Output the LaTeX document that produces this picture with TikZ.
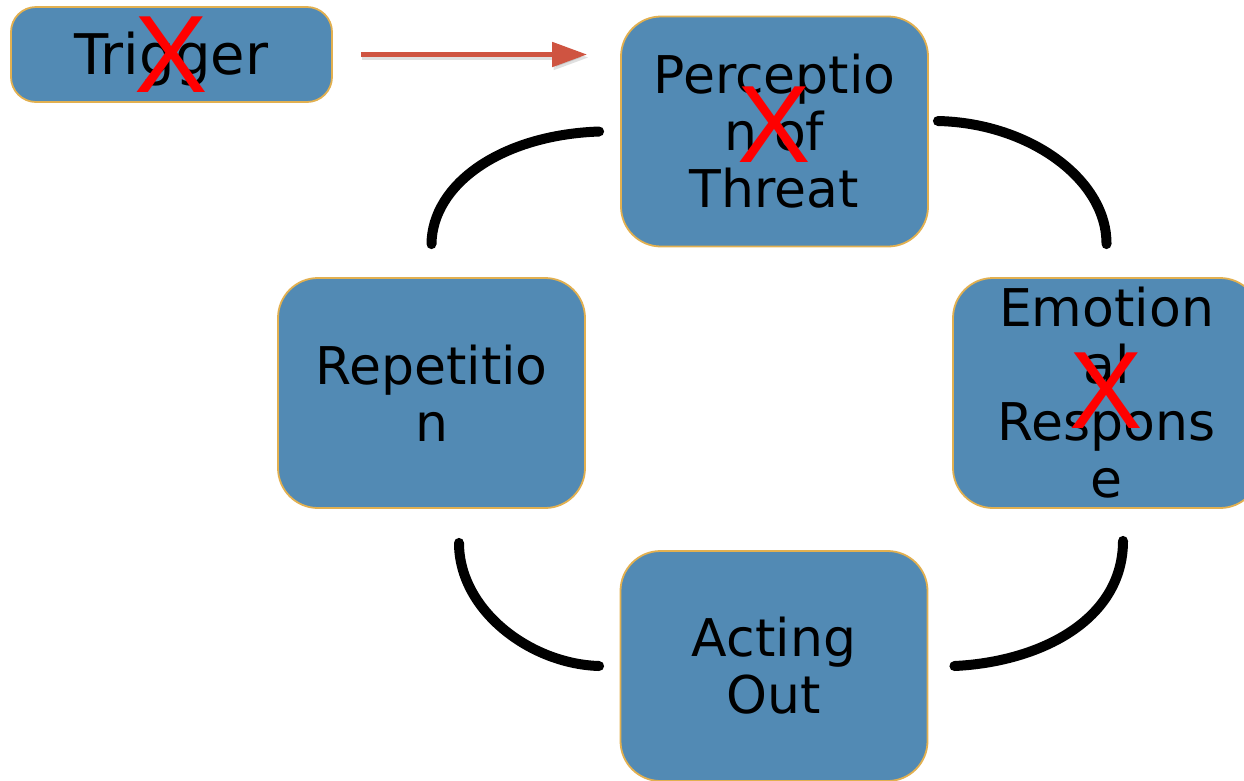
\documentclass[tikz,border=0pt]{standalone}
\usepackage{fontspec}
\setmainfont{DejaVu Sans}
\newfontfamily\markfont{Liberation Sans}
\usetikzlibrary{arrows.meta}
\definecolor{boxfill}{RGB}{82,138,180}
\definecolor{boxedge}{RGB}{226,176,80}
\definecolor{arrowred}{RGB}{207,84,65}
\tikzset{
  stage/.style={draw=boxedge, line width=1.8pt, fill=boxfill, rounded corners=40pt,
    minimum width=307pt, minimum height=230pt, inner sep=0pt, align=center,
    font=\fontsize{52}{57}\selectfont, text=black},
  startbox/.style={stage, rounded corners=25pt, minimum width=321pt, minimum height=95pt,
    font=\fontsize{56}{60}\selectfont, text height=45pt, text depth=6pt},
  cross/.style={text=red, inner sep=0pt, font=\markfont\fontsize{110}{110}\selectfont},
  loop/.style={line width=10pt, line cap=round, black},
  flow/.style={line width=5pt, arrowred, -{Triangle[length=35pt,width=24pt]}},
  flowshade/.style={line width=5pt, black, opacity=0.12, -{Triangle[length=35pt,width=24pt]}}
}
\begin{document}
\begin{tikzpicture}[x=1pt,y=-1pt]
\clip (0,0) rectangle (1244,780);
\fill[white] (0,0) rectangle (1244,780);

% cycle stages
\node[startbox] (trigger) at (171.5,54.5) {Trigger};
\node[stage] (percep) at (774.5,131.5) {Perceptio\\n of\\Threat};
\node[stage] (emot) at (1106.5,393) {Emotion\\al\\Respons\\e};
\node[stage] (act) at (774,666) {Acting\\Out};
\node[stage] (rep) at (431.5,393) {Repetitio\\n};

% crossed-out marks
\node[cross] (xtrig) at (171,55) {X};
\node[cross] (xperc) at (774.5,125) {X};
\node[cross] (xemot) at (1106.5,391) {X};

% trigger feeds into perception
\coordinate (a0) at ([xshift=28pt]trigger.east);
\coordinate (a1) at ([xshift=-33pt]percep.west |- trigger.east);
\draw[flowshade] ([shift={(1.5,3)}]a0) -- ([shift={(1.5,3)}]a1);
\draw[flow] (a0) -- (a1);

% connecting arcs of the cycle (shifts are in page units: positive y is up)
\coordinate (p1) at ([xshift=-21pt]percep.west);
\coordinate (r1) at ([yshift=33pt]rep.north);
\draw[loop] (p1) .. controls (500,135) and (432,185) .. (r1);

\coordinate (p2) at ([xshift=9pt,yshift=10.5pt]percep.east);
\coordinate (e1) at ([yshift=33pt]emot.north);
\draw[loop] (p2) .. controls (1030,123) and (1107,180) .. (e1);

\coordinate (e2) at ([xshift=16.5pt,yshift=-32pt]emot.south);
\coordinate (o1) at ([xshift=26pt]act.east);
\draw[loop] (e2) .. controls (1123,620) and (1040,662) .. (o1);

\coordinate (r2) at ([xshift=27.5pt,yshift=-34pt]rep.south);
\coordinate (o2) at ([xshift=-20.5pt]act.west);
\draw[loop] (r2) .. controls (459,610) and (530,664) .. (o2);
\end{tikzpicture}
\end{document}
